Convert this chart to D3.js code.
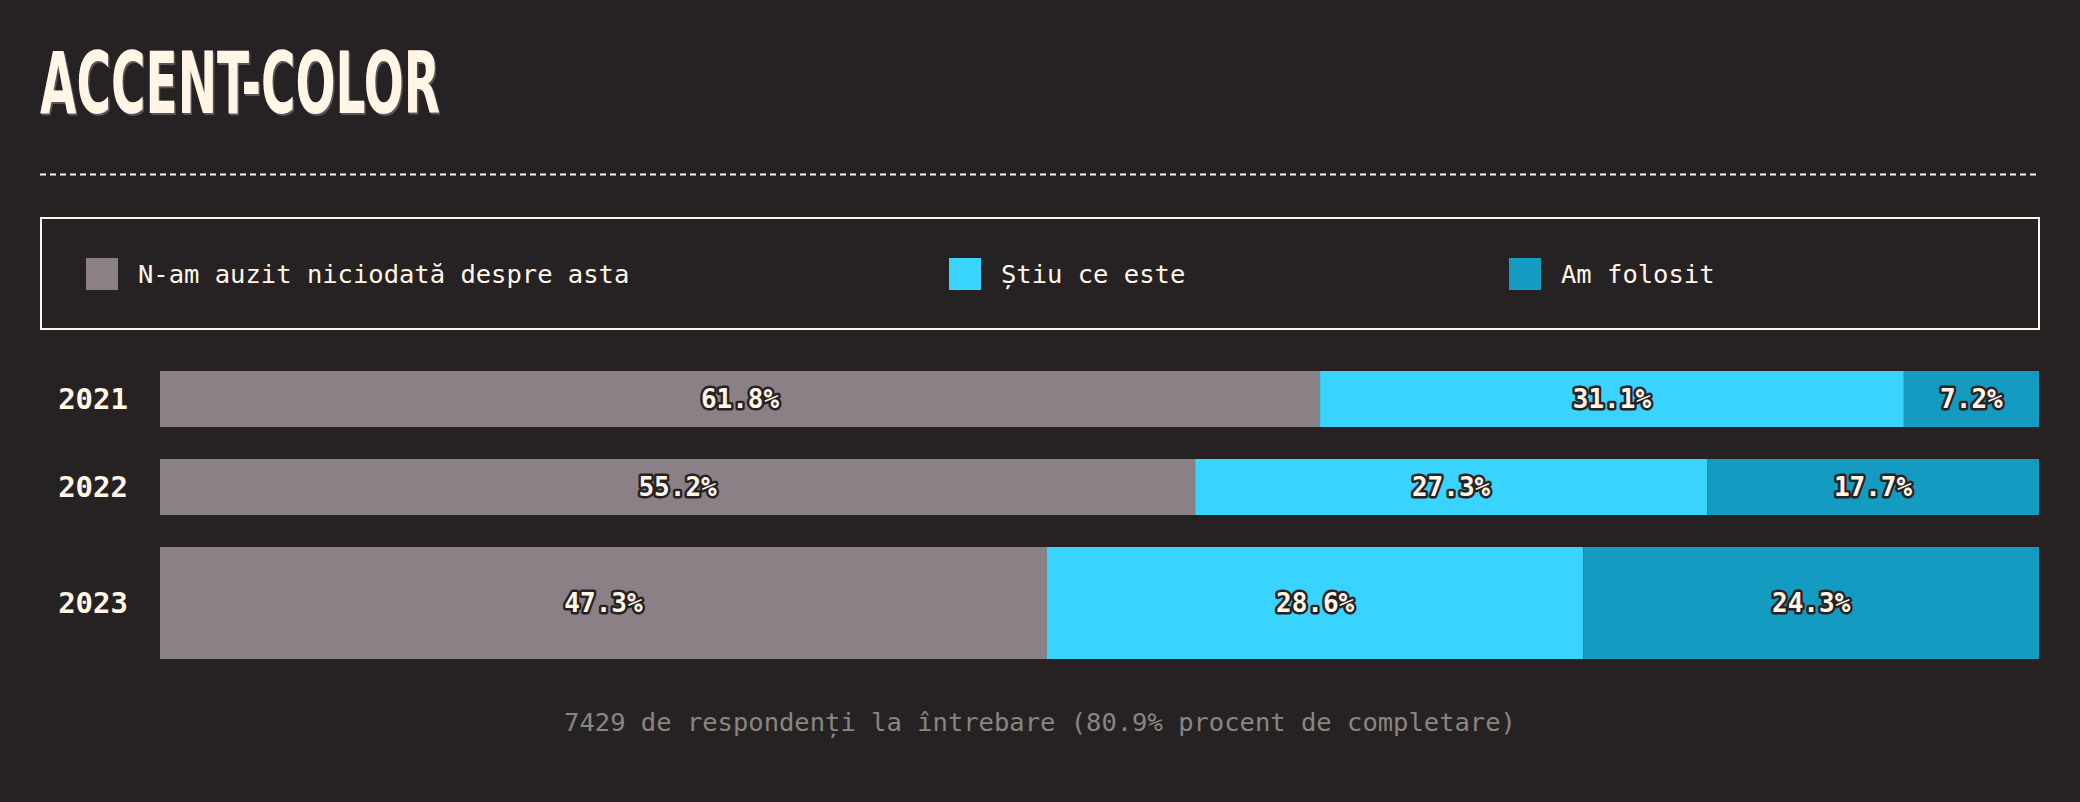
<!DOCTYPE html>
<html>
<head>
<meta charset="utf-8">
<script src="https://cdn.jsdelivr.net/npm/d3@7"></script>
<style>
  html, body { margin: 0; padding: 0; background: #262224; }
  svg { display: block; }
</style>
</head>
<body>
<svg id="chart" width="2080" height="802"></svg>
<script>
// ---- data ----
const title = "ACCENT-COLOR";
const years = ["2021", "2022", "2023"];
const seriesNames = ["N-am auzit niciodată despre asta", "Știu ce este", "Am folosit"];
const neverHeard = [61.8, 55.2, 47.3];
const knowIt = [31.1, 27.3, 28.6];
const used = [7.2, 17.7, 24.3];
const footnote = "7429 de respondenți la întrebare (80.9% procent de completare)";

// ---- style / layout ----
const W = 2080, H = 802;
const bg = "#262224";
const cream = "#fff6e6";
const colors = ["#8a8085", "#38d4fe", "#139bc1"];
const rowWeight = [1, 1, 2];
const gapRatio = 32 / 56;
const monoFont = "'DejaVu Sans Mono', 'Liberation Mono', monospace";

const svg = d3.select("#chart");
svg.append("rect").attr("width", W).attr("height", H).attr("fill", bg);

// title (shadow + text)
const titleG = svg.append("g");
[["#5a5456", 1.5, 1.5], [cream, 0, 0]].forEach(([c, dx, dy]) => {
  titleG.append("text")
    .attr("x", 40 + dx).attr("y", 113 + dy)
    .attr("font-family", "'Liberation Sans Narrow', 'DejaVu Sans Condensed', sans-serif")
    .attr("font-weight", "bold")
    .attr("font-size", 86)
    .attr("textLength", 400)
    .attr("lengthAdjust", "spacingAndGlyphs")
    .attr("fill", c)
    .text(title);
});

// dashed separator
svg.append("line")
  .attr("x1", 40).attr("x2", 2040).attr("y1", 174.5).attr("y2", 174.5)
  .attr("stroke", cream).attr("stroke-width", 2).attr("stroke-dasharray", "6 4");

// legend box
svg.append("rect")
  .attr("x", 41).attr("y", 218).attr("width", 1998).attr("height", 111)
  .attr("fill", "none").attr("stroke", cream).attr("stroke-width", 2);

const legendX = [86, 949, 1509];
const legend = svg.append("g").selectAll("g").data(seriesNames).join("g")
  .attr("transform", (d, i) => `translate(${legendX[i]},258)`);
legend.append("rect").attr("width", 32).attr("height", 32).attr("fill", (d, i) => colors[i]);
legend.append("text")
  .attr("x", 52).attr("y", 25)
  .attr("font-family", monoFont).attr("font-size", 25.5)
  .attr("fill", cream)
  .text(d => d);

// ---- bars ----
const table = years.map((y, i) => ({ year: y, s0: neverHeard[i], s1: knowIt[i], s2: used[i] }));
const keys = ["s0", "s1", "s2"];
const stack = d3.stack().keys(keys).offset(d3.stackOffsetExpand);
const stacked = stack(table);

const x = d3.scaleLinear().domain([0, 1]).range([160, 2039]);

// row positions via linear scale over weighted units
const offsets = [];
let acc = 0;
rowWeight.forEach((w, i) => { offsets.push(acc); acc += w + (i < rowWeight.length - 1 ? gapRatio : 0); });
const yU = d3.scaleLinear().domain([0, acc]).range([371, 659]);
const rowTop = i => yU(offsets[i]);
const rowH = i => yU(offsets[i] + rowWeight[i]) - yU(offsets[i]);

const barsG = svg.append("g");
stacked.forEach((layer, k) => {
  barsG.append("g").attr("fill", colors[k])
    .selectAll("rect").data(layer).join("rect")
    .attr("x", d => x(d[0]))
    .attr("y", (d, i) => rowTop(i))
    .attr("width", d => x(d[1]) - x(d[0]))
    .attr("height", (d, i) => rowH(i));
});

// value labels
const rawSeries = [neverHeard, knowIt, used];
const labelsG = svg.append("g");
stacked.forEach((layer, k) => {
  labelsG.selectAll(null).data(layer).join("text")
    .attr("x", d => (x(d[0]) + x(d[1])) / 2)
    .attr("y", (d, i) => rowTop(i) + rowH(i) / 2)
    .attr("dy", "0.36em")
    .attr("text-anchor", "middle")
    .attr("font-family", monoFont).attr("font-weight", "bold").attr("font-size", 26)
    .attr("fill", cream)
    .attr("stroke", bg).attr("stroke-width", 5).attr("stroke-linejoin", "round")
    .attr("paint-order", "stroke")
    .text((d, i) => rawSeries[k][i].toFixed(1) + "%");
});

// year labels
svg.append("g").selectAll("text").data(years).join("text")
  .attr("x", 128)
  .attr("y", (d, i) => rowTop(i) + rowH(i) / 2)
  .attr("dy", "0.36em")
  .attr("text-anchor", "end")
  .attr("font-family", monoFont).attr("font-weight", "bold").attr("font-size", 29)
  .attr("fill", cream)
  .text(d => d);

// footnote
svg.append("text")
  .attr("x", 1040).attr("y", 731)
  .attr("text-anchor", "middle")
  .attr("font-family", monoFont).attr("font-size", 25.5)
  .attr("fill", "#8b857f")
  .text(footnote);
</script>
</body>
</html>
